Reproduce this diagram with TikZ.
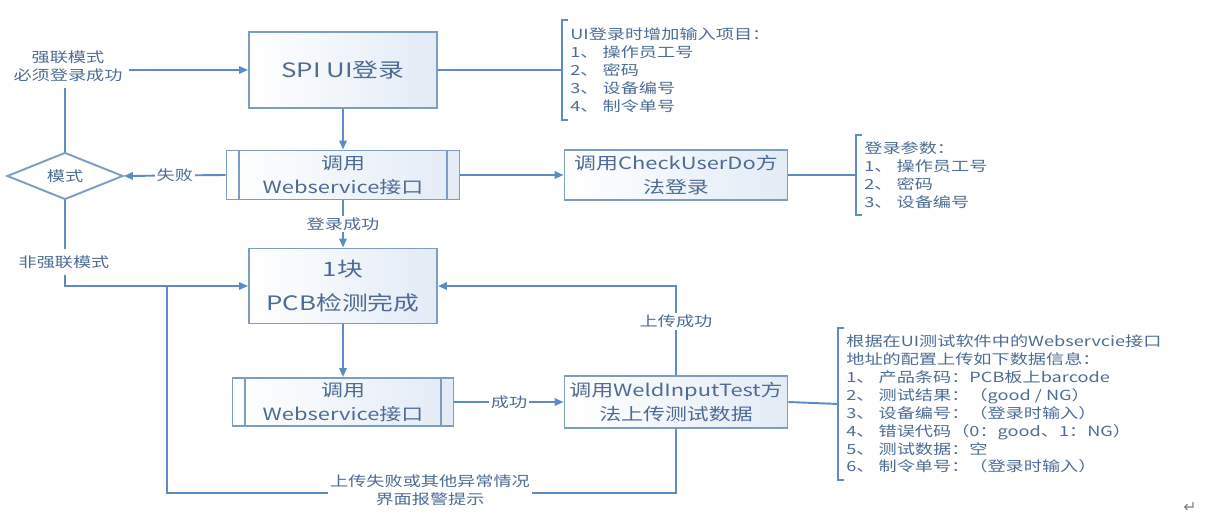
\documentclass[tikz,border=0pt]{standalone}
\usepackage{fontspec}
\setmainfont[FakeStretch=1.3]{Noto Sans CJK SC}
\newfontfamily\symfont{DejaVu Sans}
\usetikzlibrary{positioning,arrows.meta,shapes.geometric,calc}
\definecolor{lnblue}{HTML}{5B8CC4}
\definecolor{bdblue}{HTML}{7E9DC2}
\definecolor{txblue}{HTML}{4D6B94}
\definecolor{fillb}{HTML}{E3EBF6}
\newcommand{\bigfont}{\fontsize{11.3}{19}\selectfont}
\newcommand{\boxfont}{\fontsize{9.6}{13.6}\selectfont}
\newcommand{\notefont}{\fontsize{7.95}{10.2}\selectfont}

\begin{document}
\begin{tikzpicture}[
  x=0.02cm, y=-0.02cm,
  >={Triangle[length=1.8mm,width=1.5mm]},
  every node/.style={text=txblue, font=\notefont},
  ln/.style={draw=lnblue, line width=1.1pt},
  arr/.style={ln,->},
  proc/.style={draw=bdblue, line width=1.1pt, left color=white, right color=fillb,
    align=center, inner sep=0pt, font=\boxfont},
  subproc/.style={proc, path picture={
    \draw[bdblue,line width=1.1pt]
      ([xshift=0.25cm]path picture bounding box.north west)
      -- ([xshift=0.25cm]path picture bounding box.south west);
    \draw[bdblue,line width=1.1pt]
      ([xshift=-0.25cm]path picture bounding box.north east)
      -- ([xshift=-0.25cm]path picture bounding box.south east);}},
  note/.style={anchor=west, align=left, inner xsep=0.16cm, inner ysep=0pt},
  lbl/.style={fill=white, inner sep=1pt}
]
\useasboundingbox (0,0) rectangle (1215,519);

% 登录
\node[proc, minimum width=3.76cm, minimum height=1.52cm, font=\bigfont]
  (spi) at (343,70) {SPI UI登录};
\node[subproc, minimum width=4.66cm, minimum height=0.98cm]
  (web1) at (343,175) {调用\\Webservice接口};
\node[proc, minimum width=4.46cm, minimum height=1.0cm]
  (check) at (676,175) {调用CheckUserDo方\\法登录};

% 模式判断
\node[diamond, draw=bdblue, line width=1.1pt, fill=white, aspect=2.5,
  minimum width=2.32cm, minimum height=0.94cm, inner sep=0pt]
  (mode) at (65,176) {模式};
\node[align=center] (strong) at (68,66) {强联模式\\必须登录成功};
\node (weak) at (64,262) {非强联模式};

% 检测与上传
\node[proc, minimum width=3.76cm, minimum height=1.5cm, font=\bigfont]
  (pcb) at (343,286) {1块\\PCB检测完成};
\node[subproc, minimum width=4.42cm, minimum height=0.96cm]
  (web2) at (343,402) {调用\\Webservice接口};
\node[proc, minimum width=4.46cm, minimum height=1.04cm]
  (weld) at (676,402) {调用WeldInputTest方\\法上传测试数据};

% 注释
\node[note, minimum height=2.0cm] (note1) at (562,70)
  {UI登录时增加输入项目：\\1、 操作员工号\\2、 密码\\3、 设备编号\\4、 制令单号};
\node[note, minimum height=1.6cm] (note2) at (856,175)
  {登录参数：\\1、 操作员工号\\2、 密码\\3、 设备编号};
\node[note, minimum height=3.04cm] (note3) at (838,404)
  {根据在UI测试软件中的Webservcie接口\\地址的配置上传如下数据信息：\\
   1、 产品条码：PCB板上barcode\\2、 测试结果：（good / NG）\\
   3、 设备编号：（登录时输入）\\4、 错误代码（0：good、1：NG）\\
   5、 测试数据：空\\6、 制令单号：（登录时输入）};
\foreach \n in {note1,note2,note3}
  \draw[ln] ([xshift=0.12cm]\n.north west) -- (\n.north west)
    -- (\n.south west) -- ([xshift=0.12cm]\n.south west);

% 连线
\draw[arr] (strong.east |- spi.west) -- (spi.west);
\draw[ln] (mode.north) -- (strong.south -| mode.north);
\draw[arr] (spi) -- (web1);
\draw[arr] (web1.west) -- node[lbl] {失败} (mode.east);
\draw[arr] (web1) -- (check);
\draw[arr] (web1) -- node[lbl] {登录成功} (pcb);
\draw[ln] (mode.south) -- (weak.north -| mode.south);
\draw[arr] (weak.south -| mode.south) |- (pcb.west);
\draw[arr] (pcb) -- (web2);
\draw[arr] (web2) -- node[lbl] {成功} (weld);
\draw[arr] (weld.north) |- node[lbl, pos=0.3] {上传成功} (pcb.east);
\coordinate (failc) at (167,493);
\draw[ln] (weld.south) |- (failc) -- (failc |- pcb.west);
\node[lbl, align=center] (fail) at (430,490) {上传失败或其他异常情况\\界面报警提示};
\draw[ln] (spi.east) -- (note1.west);
\draw[ln] (check.east) -- (note2.west);
\draw[ln] (weld.east) -- (note3.west);

\node[text=gray, font=\symfont\small] (para) at (1190,508) {↵};
\end{tikzpicture}
\end{document}
